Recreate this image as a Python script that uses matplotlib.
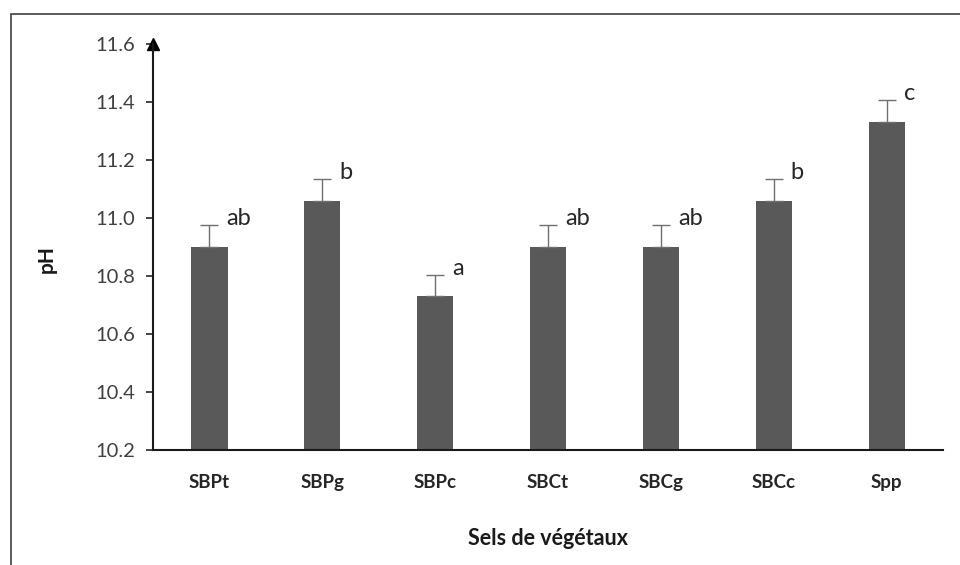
import numpy as np
import matplotlib.pyplot as plt
from matplotlib.patches import Rectangle

plt.rcParams['font.family'] = ['Lato', 'DejaVu Sans']

categories = ['SBPt', 'SBPg', 'SBPc', 'SBCt', 'SBCg', 'SBCc', 'Spp']
ph = [10.90, 11.06, 10.73, 10.90, 10.90, 11.06, 11.33]
err = [0.076, 0.075, 0.074, 0.076, 0.076, 0.075, 0.077]
letters = ['ab', 'b', 'a', 'ab', 'ab', 'b', 'c']
yticks = [10.2, 10.4, 10.6, 10.8, 11.0, 11.2, 11.4, 11.6]

fig = plt.figure(figsize=(9.6, 5.65), dpi=100)
ax = fig.add_axes([0.1594, 0.2035, 0.8229, 0.7186])

x = np.arange(len(categories))
ax.bar(x, ph, width=0.32, color='#595959', zorder=2)
ax.errorbar(x, ph, yerr=[np.zeros(len(err)), err], fmt='none',
            ecolor='#707070', elinewidth=1, capsize=6.5, capthick=1, zorder=3)
for xi, v, e, t in zip(x, ph, err, letters):
    ax.text(xi + 0.15, v + e, t, ha='left', va='baseline', fontsize=17, color='#262626')

ax.set_xlim(-0.5, len(categories) - 0.5)
ax.set_ylim(10.2, 11.6)
ax.set_yticks(yticks)
ax.set_yticklabels(['%.1f' % t for t in yticks])
ax.set_xticks(x)
ax.set_xticklabels(categories, fontweight='bold')
ax.tick_params(axis='y', direction='out', length=5, width=1.2, color='#262626',
               labelsize=14.5, labelcolor='#404040', pad=8)
ax.tick_params(axis='x', length=0, labelsize=13.5, labelcolor='#262626', pad=17)

for s in ['top', 'right']:
    ax.spines[s].set_visible(False)
ax.spines['left'].set_linewidth(1.5)
ax.spines['bottom'].set_linewidth(1.5)
ax.spines['left'].set_color('#1a1a1a')
ax.spines['bottom'].set_color('#1a1a1a')
ax.plot(0, 1.0, marker='^', color='black', markersize=9,
        transform=ax.transAxes, clip_on=False)

ax.set_ylabel('pH', fontsize=15, fontweight='bold', color='#1a1a1a', va='center')
ax.yaxis.set_label_coords(-0.134, 0.47)
ax.set_xlabel('Sels de végétaux', fontsize=15.5, fontweight='bold', color='#1a1a1a', va='center')
ax.xaxis.set_label_coords(0.5, -0.217)

fig.patches.append(Rectangle((11 / 960, -0.01), 1.0, 1 - 14 / 565 + 0.01,
                             transform=fig.transFigure, fill=False,
                             edgecolor='#404040', linewidth=1.2))

fig.savefig('out.png', dpi=100)
